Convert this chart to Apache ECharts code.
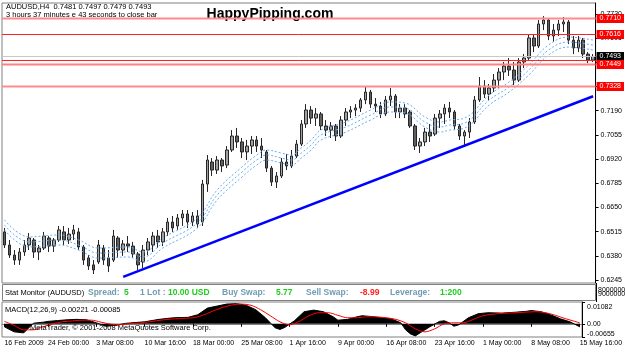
<!DOCTYPE html>
<html><head><meta charset="utf-8">
<script src="https://cdn.jsdelivr.net/npm/echarts@6/dist/echarts.min.js"></script>
<style>html,body{margin:0;padding:0;background:#fff}#c{width:625px;height:352px}</style>
</head><body><div id="c"></div>
<script>
// ---- price data (AUDUSD H4, grouped candles) ----
const opens = [0.6514,0.6441,0.6385,0.6357,0.6402,0.6441,0.6469,0.6402,0.6424,0.6480,
0.6435,0.6469,0.6514,0.6469,0.6502,0.6514,0.6430,0.6369,0.6330,0.6346,
0.6424,0.6369,0.6357,0.6480,0.6413,0.6447,0.6435,0.6391,0.6346,0.6413,
0.6441,0.6491,0.6458,0.6514,0.6569,0.6547,0.6592,0.6614,0.6569,0.6603,
0.6569,0.6781,0.6904,0.6859,0.6915,0.6887,0.6971,0.7049,0.7016,0.6960,
0.6993,0.7027,0.6993,0.6960,0.6870,0.6792,0.6826,0.6904,0.6882,0.6937,
0.7004,0.7116,0.7194,0.7149,0.7172,0.7105,0.7082,0.7105,0.7049,0.7138,
0.7183,0.7194,0.7205,0.7250,0.7294,0.7227,0.7216,0.7172,0.7250,0.7272,
0.7183,0.7205,0.7183,0.7105,0.6993,0.7016,0.7071,0.7060,0.7149,0.7172,
0.7205,0.7183,0.7105,0.7049,0.7071,0.7127,0.7250,0.7328,0.7283,0.7317,
0.7361,0.7406,0.7439,0.7417,0.7361,0.7462,0.7484,0.7596,0.7551,0.7674,
0.7696,0.7607,0.7640,0.7674,0.7685,0.7584,0.7540,0.7584,0.7506,0.7473];
const closes = [0.6441,0.6385,0.6357,0.6402,0.6441,0.6480,0.6402,0.6424,0.6491,0.6435,
0.6469,0.6525,0.6469,0.6502,0.6525,0.6430,0.6357,0.6324,0.6302,0.6441,
0.6357,0.6324,0.6491,0.6413,0.6447,0.6435,0.6391,0.6330,0.6413,0.6458,
0.6491,0.6458,0.6514,0.6569,0.6536,0.6592,0.6614,0.6569,0.6603,0.6558,
0.6781,0.6915,0.6859,0.6915,0.6882,0.6971,0.7049,0.7016,0.6960,0.6993,
0.7027,0.6993,0.6971,0.6870,0.6792,0.6826,0.6904,0.6882,0.6937,0.7004,
0.7116,0.7194,0.7149,0.7172,0.7105,0.7082,0.7105,0.7049,0.7138,0.7183,
0.7194,0.7205,0.7250,0.7294,0.7227,0.7216,0.7172,0.7250,0.7272,0.7183,
0.7205,0.7172,0.7105,0.6993,0.7016,0.7071,0.7049,0.7149,0.7172,0.7205,
0.7183,0.7105,0.7049,0.7071,0.7127,0.7250,0.7328,0.7283,0.7317,0.7361,
0.7406,0.7439,0.7417,0.7361,0.7462,0.7484,0.7596,0.7551,0.7674,0.7696,
0.7607,0.7640,0.7674,0.7685,0.7584,0.7540,0.7584,0.7506,0.7473,0.7493];
const lows = [0.6424,0.6369,0.6330,0.6330,0.6380,0.6413,0.6369,0.6357,0.6413,0.6402,
0.6402,0.6458,0.6441,0.6447,0.6469,0.6413,0.6330,0.6302,0.6279,0.6335,
0.6330,0.6290,0.6346,0.6369,0.6380,0.6402,0.6369,0.6302,0.6313,0.6385,
0.6402,0.6424,0.6435,0.6491,0.6514,0.6525,0.6547,0.6536,0.6547,0.6536,
0.6547,0.6737,0.6826,0.6837,0.6848,0.6870,0.6960,0.6982,0.6926,0.6915,
0.6949,0.6960,0.6926,0.6848,0.6770,0.6759,0.6815,0.6859,0.6870,0.6926,
0.6993,0.7094,0.7116,0.7105,0.7082,0.7049,0.7038,0.7021,0.7038,0.7105,
0.7149,0.7160,0.7183,0.7227,0.7205,0.7183,0.7149,0.7160,0.7216,0.7149,
0.7149,0.7149,0.7094,0.6971,0.6954,0.6993,0.7016,0.7049,0.7094,0.7116,
0.7149,0.7082,0.7027,0.6988,0.7038,0.7116,0.7239,0.7261,0.7250,0.7294,
0.7317,0.7361,0.7384,0.7333,0.7350,0.7428,0.7473,0.7517,0.7540,0.7640,
0.7584,0.7573,0.7607,0.7629,0.7562,0.7506,0.7517,0.7484,0.7456,0.7462];
const highs = [0.6536,0.6469,0.6413,0.6424,0.6469,0.6508,0.6480,0.6441,0.6514,0.6491,
0.6480,0.6547,0.6547,0.6536,0.6553,0.6536,0.6441,0.6385,0.6357,0.6469,
0.6441,0.6413,0.6525,0.6491,0.6469,0.6491,0.6458,0.6402,0.6441,0.6480,
0.6514,0.6525,0.6536,0.6592,0.6603,0.6614,0.6636,0.6636,0.6625,0.6636,
0.6804,0.6943,0.6926,0.6937,0.6926,0.6993,0.7082,0.7094,0.7038,0.7027,
0.7049,0.7049,0.7038,0.6971,0.6882,0.6848,0.6926,0.6949,0.6971,0.7027,
0.7138,0.7227,0.7216,0.7205,0.7183,0.7138,0.7127,0.7116,0.7160,0.7205,
0.7216,0.7227,0.7261,0.7328,0.7306,0.7261,0.7239,0.7272,0.7317,0.7283,
0.7227,0.7227,0.7194,0.7116,0.7038,0.7094,0.7116,0.7172,0.7194,0.7227,
0.7239,0.7194,0.7116,0.7082,0.7149,0.7272,0.7378,0.7361,0.7339,0.7395,
0.7428,0.7462,0.7484,0.7462,0.7484,0.7506,0.7618,0.7618,0.7696,0.7718,
0.7707,0.7674,0.7696,0.7713,0.7696,0.7607,0.7607,0.7596,0.7517,0.7506];

// moving-average envelope (light blue dotted), sampled at bar indices
const maIdx   = [0,5,11,15,19,25,28,32,39,43,48,51,53,56,58,60,62,64,69,74,78,81,85,88,90,93,98,102,106,110,114,119];
const maUpper = [0.6581,0.6486,0.6497,0.6469,0.6424,0.6430,0.6402,0.6480,0.6592,0.6748,0.6876,0.6943,0.6971,0.6954,0.6943,0.6982,0.7027,0.7083,0.7127,0.7194,0.7239,0.7233,0.7155,0.7127,0.7138,0.7149,0.7278,0.7350,0.7445,0.7557,0.7601,0.7584];
const maMid   = [0.6553,0.6458,0.6469,0.6441,0.6396,0.6402,0.6374,0.6452,0.6564,0.6720,0.6848,0.6915,0.6943,0.6926,0.6915,0.6954,0.6999,0.7055,0.7099,0.7166,0.7211,0.7205,0.7127,0.7099,0.7110,0.7121,0.7250,0.7322,0.7417,0.7529,0.7573,0.7556];
const maLower = [0.6525,0.6430,0.6441,0.6413,0.6368,0.6374,0.6346,0.6424,0.6536,0.6692,0.6820,0.6887,0.6915,0.6898,0.6887,0.6926,0.6971,0.7027,0.7071,0.7138,0.7183,0.7177,0.7099,0.7071,0.7082,0.7093,0.7222,0.7294,0.7389,0.7501,0.7545,0.7528];

// trend line (bar index, price)
const trendIdx = [24, 119];
const trendVal = [0.6263, 0.7271];

// horizontal levels (drawing order: later ones on top)
const levelVals   = [0.7473, 0.7710, 0.7616, 0.7328, 0.7493, 0.7449];
const levelColors = ['#ff2020', '#ff8c8c', '#ff2020', '#ff8c8c', '#c8c8c8', '#ff8080'];
const levelWidths = [1, 2, 1, 2, 1, 2];
const levelBoxes  = ['#ff0000', '#ff0000', '#ff0000', '#ff0000', '#000000', '#ff0000'];

// price axis tick labels
const priceTicks = [0.6245,0.6380,0.6515,0.6650,0.6785,0.6920,0.7055,0.7190,0.7325,0.7460,0.7595,0.7730];

// MACD(12,26,9)
const macdIdx  = [0,2,4,6,8,9,11,13,15,17,19,21,23,25,27,29,32,35,38,40,42,44,46,48,50,52,54,55,56,57,58,60,62,64,66,68,69,71,73,74,76,78,80,82,83,84,85,86,88,90,91,92,93,94,96,98,100,103,106,108,109,111,113,115,117,118,119];
const macdMain = [-0.0015,-0.0040,-0.0045,0.0003,0.0008,0.0012,0.0016,0.0020,0.0022,0.0020,0.0005,-0.0012,-0.0008,0.0002,0.0006,0.0010,0.0022,0.0030,0.0032,0.0045,0.0078,0.0088,0.0098,0.0100,0.0092,0.0070,0.0030,0.0005,-0.0020,-0.0028,-0.0018,0.0015,0.0060,0.0068,0.0060,0.0035,0.0018,0.0022,0.0035,0.0040,0.0036,0.0030,0.0025,0.0005,-0.0030,-0.0050,-0.0060,-0.0045,-0.0015,0.0012,0.0015,0.0005,-0.0012,-0.0005,0.0030,0.0050,0.0055,0.0053,0.0058,0.0062,0.0066,0.0060,0.0045,0.0025,0.0010,-0.0002,-0.0015];
const sigIdx   = [0,2,4,6,8,10,12,14,16,18,20,22,24,26,28,30,33,36,39,41,43,45,47,49,51,53,55,57,59,61,63,65,67,69,71,73,75,77,79,81,83,85,87,89,91,93,95,97,99,102,105,108,110,112,114,116,118,119];
const sigVal   = [0.0012,-0.0008,-0.0030,-0.0030,-0.0015,0.0000,0.0010,0.0014,0.0018,0.0018,0.0008,-0.0002,-0.0004,0.0000,0.0004,0.0010,0.0020,0.0026,0.0030,0.0042,0.0062,0.0080,0.0093,0.0098,0.0092,0.0070,0.0040,0.0010,-0.0005,0.0012,0.0040,0.0055,0.0055,0.0042,0.0030,0.0030,0.0035,0.0034,0.0030,0.0022,0.0005,-0.0025,-0.0040,-0.0025,0.0000,0.0005,0.0005,0.0022,0.0040,0.0050,0.0054,0.0058,0.0060,0.0055,0.0042,0.0026,0.0012,0.0005];
const macdTicks = [-0.00655, 0, 0.01082];

// time axis labels
const timeLabels   = ['16 Feb 2009','24 Feb 00:00','3 Mar 08:00','10 Mar 16:00','18 Mar 00:00','25 Mar 08:00','1 Apr 16:00','9 Apr 00:00','16 Apr 08:00','23 Apr 16:00','1 May 00:00','8 May 08:00','15 May 16:00'];
const timeLabelIdx = [0,9,19,29,39,49,59,69,79,89,99,109,119];

// ---- build ----
const cats = opens.map((_, i) => String(i));
const ohlc = opens.map((o, i) => [o, closes[i], lows[i], highs[i]]);
const pair = (idx, vals) => idx.map((x, k) => [x, vals[k]]);
const FF = '"Liberation Sans", Arial, sans-serif';

const chart = echarts.init(document.getElementById('c'), null, {renderer: 'canvas'});
const maStyle = {color: '#6aaef0', width: 1, type: [2, 2]};

const statItems = [
  ['Stat Monitor (AUDUSD)', 5, '#000', 'normal', 7.5],
  ['Spread:', 88, '#6f9cb3', 'bold', 8.5], ['5', 124, '#1fcc1f', 'bold', 8.5],
  ['1 Lot :', 140, '#6f9cb3', 'bold', 8.5], ['10.00 USD', 168, '#1fcc1f', 'bold', 8.5],
  ['Buy Swap:', 222, '#6f9cb3', 'bold', 8.5], ['5.77', 276, '#1fcc1f', 'bold', 8.5],
  ['Sell Swap:', 306, '#6f9cb3', 'bold', 8.5], ['-8.99', 360, '#ff2020', 'bold', 8.5],
  ['Leverage:', 390, '#6f9cb3', 'bold', 8.5], ['1:200', 440, '#1fcc1f', 'bold', 8.5]
];

const graphics = [
  {type: 'rect', shape: {x: 2.5, y: 284.5, width: 593, height: 16}, style: {fill: '#fff', stroke: '#808080', lineWidth: 1}},
  {type: 'line', shape: {x1: 596.5, y1: 283, x2: 596.5, y2: 302}, style: {stroke: '#000', lineWidth: 1}},
  {type: 'text', x: 6, y: 7, style: {text: 'AUDUSD,H4  0.7481 0.7497 0.7479 0.7493', fill: '#000', fontSize: 7.5, fontFamily: FF, verticalAlign: 'middle'}},
  {type: 'text', x: 6, y: 15, style: {text: '3 hours 37 minutes e 43 seconds to close bar', fill: '#000', fontSize: 7.5, fontFamily: FF, verticalAlign: 'middle'}},
  {type: 'text', x: 270, y: 14, style: {text: 'HappyPipping.com', fill: '#000', fontSize: 14, fontWeight: 'bold', fontFamily: FF, align: 'center', verticalAlign: 'middle'}},
  {type: 'text', x: 598, y: 290, style: {text: '8000000', fill: '#000', fontSize: 7, fontFamily: FF, verticalAlign: 'middle'}},
  {type: 'text', x: 598, y: 294, style: {text: '9000000', fill: '#000', fontSize: 7, fontFamily: FF, verticalAlign: 'middle'}},
  {type: 'text', x: 5, y: 310, style: {text: 'MACD(12,26,9) -0.00221 -0.00085', fill: '#000', fontSize: 7.5, fontFamily: FF, verticalAlign: 'middle'}},
  {type: 'text', x: 30, y: 328, z: 100, style: {text: 'MetaTrader, \u00a9 2001-2008 MetaQuotes Software Corp.', fill: '#000', fontSize: 7.5, fontFamily: FF, verticalAlign: 'middle'}}
].concat(statItems.map(s => ({type: 'text', x: s[1], y: 292.5, style: {text: s[0], fill: s[2], fontWeight: s[3], fontSize: s[4], fontFamily: FF, verticalAlign: 'middle'}})));

function renderLevel(params, api) {
  const k = params.dataIndex;
  const v = api.value(1);
  const y = Math.round(api.coord([0, v])[1]) + 0.5;
  const cs = params.coordSys;
  return {type: 'group', children: [
    {type: 'line', shape: {x1: cs.x, y1: y, x2: cs.x + cs.width, y2: y}, style: {stroke: levelColors[k], lineWidth: levelWidths[k]}},
    {type: 'text', x: cs.x + cs.width + 1, y: y, style: {text: v.toFixed(4), fill: '#fff', backgroundColor: levelBoxes[k],
      padding: [1, 3, 1, 3], fontSize: 7, fontFamily: FF, verticalAlign: 'middle', align: 'left'}}
  ]};
}

const option = {
  animation: false,
  backgroundColor: '#fff',
  grid: [
    {left: 2, right: 29, top: 3, height: 280, show: true, borderColor: '#808080', borderWidth: 1, backgroundColor: '#fff'},
    {left: 2, right: 29, top: 302, height: 35, show: true, borderColor: '#808080', borderWidth: 1, backgroundColor: '#fff'}
  ],
  xAxis: [
    {type: 'category', gridIndex: 0, data: cats, boundaryGap: true, axisLine: {show: false}, axisTick: {show: false}, axisLabel: {show: false}, splitLine: {show: false}},
    {type: 'category', gridIndex: 1, data: cats, boundaryGap: true,
     axisLine: {show: true, lineStyle: {color: '#808080'}},
     axisTick: {show: true, length: 3, alignWithLabel: true, interval: (i) => timeLabelIdx.includes(i), lineStyle: {color: '#000'}},
     axisLabel: {show: true, interval: (i) => timeLabelIdx.includes(i), formatter: (v, i) => timeLabels[timeLabelIdx.indexOf(i)] || '',
       align: 'left', fontSize: 7, fontFamily: FF, color: '#000', margin: 3, hideOverlap: false}}
  ],
  yAxis: [
    {type: 'value', gridIndex: 0, position: 'right', min: 0.6229, max: 0.7791,
     axisLine: {show: true, lineStyle: {color: '#000'}}, splitLine: {show: false},
     axisTick: {show: true, length: 3, customValues: priceTicks, lineStyle: {color: '#000'}},
     axisLabel: {customValues: priceTicks, formatter: (v) => v.toFixed(4), fontSize: 7, fontFamily: FF, color: '#000', margin: 5}},
    {type: 'value', gridIndex: 1, position: 'right', min: -0.00655, max: 0.01082,
     axisLine: {show: true, lineStyle: {color: '#000'}}, splitLine: {show: false},
     axisTick: {show: true, length: 3, customValues: macdTicks, lineStyle: {color: '#000'}},
     axisLabel: {customValues: macdTicks, fontSize: 7, fontFamily: FF, color: '#000', margin: 5,
       formatter: (v) => v === 0 ? '{m|0.00}' : (v > 0 ? '{t|' + v.toFixed(5) + '}' : '{b|' + v.toFixed(5) + '}'),
       rich: {t: {fontSize: 7, fontFamily: FF, padding: [10, 0, 0, 0]}, m: {fontSize: 7, fontFamily: FF}, b: {fontSize: 7, fontFamily: FF, padding: [0, 0, 6, 0]}}}}
  ],
  series: [
    {type: 'candlestick', xAxisIndex: 0, yAxisIndex: 0, data: ohlc, barWidth: 3,
     itemStyle: {color: '#a0a0a0', color0: '#606060', borderColor: '#262626', borderColor0: '#262626', borderWidth: 1}},
    {type: 'line', xAxisIndex: 0, yAxisIndex: 0, data: pair(maIdx, maUpper), smooth: 0.4, symbol: 'none', lineStyle: maStyle, z: 3},
    {type: 'line', xAxisIndex: 0, yAxisIndex: 0, data: pair(maIdx, maMid), smooth: 0.4, symbol: 'none', lineStyle: maStyle, z: 3},
    {type: 'line', xAxisIndex: 0, yAxisIndex: 0, data: pair(maIdx, maLower), smooth: 0.4, symbol: 'none', lineStyle: maStyle, z: 3},
    {type: 'line', xAxisIndex: 0, yAxisIndex: 0, data: pair(trendIdx, trendVal), symbol: 'none', lineStyle: {color: '#0000ff', width: 2.5}, z: 4},
    {type: 'custom', xAxisIndex: 0, yAxisIndex: 0, clip: false, silent: true, z: 5,
     data: levelVals.map(v => [0, v]), renderItem: renderLevel},
    {type: 'line', xAxisIndex: 1, yAxisIndex: 1, data: pair(macdIdx, macdMain), symbol: 'none',
     lineStyle: {color: '#000', width: 1}, areaStyle: {color: '#000', opacity: 1}},
    {type: 'line', xAxisIndex: 1, yAxisIndex: 1, data: pair(sigIdx, sigVal), symbol: 'none', smooth: 0.3,
     lineStyle: {color: '#ff0000', width: 1}, z: 4}
  ],
  graphic: graphics
};
chart.setOption(option);
</script></body></html>
